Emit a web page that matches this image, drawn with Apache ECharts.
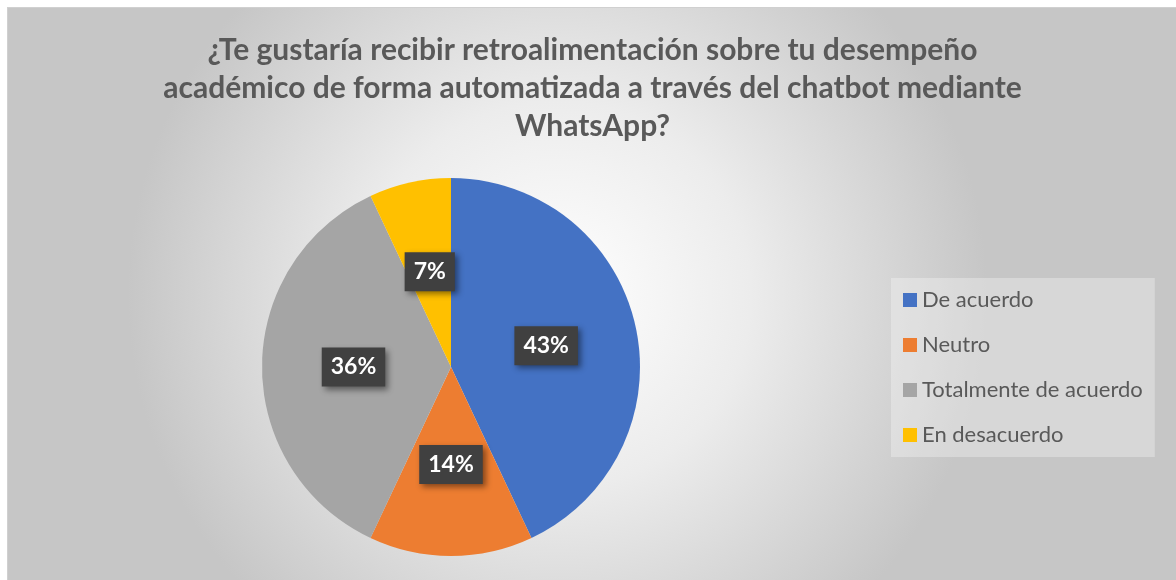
<!DOCTYPE html>
<html>
<head>
<meta charset="utf-8">
<script src="https://cdn.jsdelivr.net/npm/echarts@6/dist/echarts.min.js"></script>
<style>
  html, body { margin: 0; padding: 0; background: #fff; }
  #chart {
    position: absolute; left: 7px; top: 7px;
    width: 1169px; height: 573px;
    border-left: 1px solid #d0d0d0; border-top: 1px solid #d0d0d0;
  }
</style>
</head>
<body>
<div id="chart"></div>
<script>
const titleText = '¿Te gustaría recibir retroalimentación sobre tu desempeño\nacadémico de forma automatizada a través del chatbot mediante\nWhatsApp?'
const categories = ['De acuerdo', 'Neutro', 'Totalmente de acuerdo', 'En desacuerdo']
const values = [43, 14, 36, 7]
const colors = ['#4472c4', '#ed7d31', '#a5a5a5', '#ffc000']

const font = 'Lato, "Open Sans", sans-serif'

const chart = echarts.init(document.getElementById('chart'))
const option = {
  backgroundColor: new echarts.graphic.RadialGradient(0.47, 0.5, 0.75, [
    { offset: 0, color: '#ffffff' },
    { offset: 0.45, color: '#ececec' },
    { offset: 1, color: '#c6c6c6' }
  ]),
  color: colors,
  title: {
    text: titleText,
    left: 'center',
    top: 18,
    textStyle: {
      fontFamily: font,
      fontWeight: 'bold',
      fontSize: 30,
      lineHeight: 38,
      color: '#595959'
    }
  },
  legend: {
    orient: 'vertical',
    left: 883,
    top: 270,
    data: categories,
    icon: 'rect',
    itemWidth: 14,
    itemHeight: 14,
    itemGap: 23,
    padding: [11, 12, 11, 12],
    backgroundColor: 'rgba(255,255,255,0.3)',
    textStyle: {
      fontFamily: font,
      fontSize: 22,
      lineHeight: 22,
      color: '#595959'
    }
  },
  series: [{
    type: 'pie',
    center: [443, 359],
    radius: 189,
    startAngle: 90,
    clockwise: true,
    silent: true,
    data: categories.map((c, i) => ({ name: c, value: values[i] })),
    label: {
      show: true,
      position: 'inside',
      formatter: p => p.value + '%',
      fontFamily: font,
      fontWeight: 'bold',
      fontSize: 23,
      color: '#ffffff',
      backgroundColor: '#404040',
      padding: [9, 9, 7, 9],
      shadowColor: 'rgba(0,0,0,0.45)',
      shadowBlur: 6,
      shadowOffsetX: 3,
      shadowOffsetY: 3
    },
    labelLine: { show: false }
  }]
}
chart.setOption(option)
</script>
</body>
</html>
